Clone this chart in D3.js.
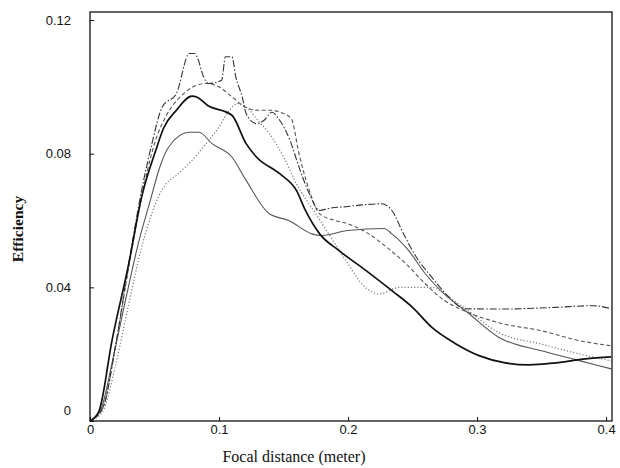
<!DOCTYPE html>
<html>
<head>
<meta charset="utf-8">
<script src="https://cdn.jsdelivr.net/npm/d3@7"></script>
<style>
  body { margin: 0; background: #fff; }
  svg { display: block; }
</style>
</head>
<body>
<svg id="chart" width="620" height="468"></svg>
<script>
// focal distance (m) / efficiency pairs
const xA = [0, 0.007, 0.017, 0.03, 0.04, 0.051, 0.057, 0.067, 0.079, 0.083, 0.091, 0.11, 0.121, 0.129, 0.147, 0.16, 0.167, 0.178, 0.193, 0.214, 0.234, 0.25, 0.265, 0.284, 0.302, 0.322, 0.34, 0.361, 0.384, 0.404];
const yA = [0, 0.003, 0.024, 0.047, 0.067, 0.081, 0.0876, 0.093, 0.0972, 0.0969, 0.0945, 0.0915, 0.083, 0.079, 0.074, 0.069, 0.063, 0.056, 0.051, 0.045, 0.039, 0.034, 0.028, 0.023, 0.0195, 0.0174, 0.0168, 0.0174, 0.0186, 0.0192];

const xB = [0, 0.008, 0.018, 0.028, 0.038, 0.046, 0.055, 0.061, 0.0767, 0.0845, 0.0946, 0.11, 0.121, 0.139, 0.154, 0.172, 0.178, 0.2, 0.228, 0.234, 0.247, 0.26, 0.276, 0.291, 0.317, 0.35, 0.38, 0.404];
const yB = [0, 0.003, 0.019, 0.037, 0.054, 0.065, 0.077, 0.082, 0.0864, 0.0864, 0.083, 0.079, 0.072, 0.062, 0.060, 0.056, 0.0555, 0.057, 0.0576, 0.056, 0.051, 0.044, 0.0375, 0.033, 0.025, 0.021, 0.018, 0.0156];

const xC = [0, 0.01, 0.02, 0.03, 0.04, 0.048, 0.056, 0.067, 0.077, 0.081, 0.083, 0.088, 0.092, 0.102, 0.105, 0.11, 0.113, 0.118, 0.121, 0.129, 0.135, 0.141, 0.147, 0.155, 0.162, 0.17, 0.178, 0.185, 0.2, 0.215, 0.226, 0.234, 0.243, 0.253, 0.265, 0.276, 0.291, 0.32, 0.36, 0.39, 0.404];
const yC = [0, 0.004, 0.023, 0.047, 0.069, 0.083, 0.094, 0.098, 0.110, 0.110, 0.109, 0.103, 0.101, 0.102, 0.109, 0.109, 0.103, 0.097, 0.092, 0.089, 0.090, 0.0924, 0.090, 0.084, 0.076, 0.068, 0.063, 0.0636, 0.0642, 0.0648, 0.065, 0.063, 0.056, 0.049, 0.043, 0.038, 0.0336, 0.0335, 0.034, 0.0345, 0.0336];

const xD = [0, 0.01, 0.02, 0.03, 0.04, 0.053, 0.059, 0.067, 0.079, 0.09, 0.1, 0.108, 0.115, 0.121, 0.13, 0.139, 0.15, 0.16, 0.175, 0.19, 0.2, 0.212, 0.224, 0.24, 0.257, 0.265, 0.278, 0.291, 0.317, 0.35, 0.38, 0.404];
const yD = [0, 0.003, 0.017, 0.035, 0.052, 0.067, 0.071, 0.0735, 0.078, 0.083, 0.088, 0.093, 0.095, 0.094, 0.090, 0.086, 0.079, 0.071, 0.062, 0.053, 0.047, 0.0405, 0.038, 0.040, 0.040, 0.040, 0.037, 0.0336, 0.0264, 0.023, 0.020, 0.018];

const xE = [0, 0.01, 0.02, 0.03, 0.04, 0.05, 0.06, 0.07, 0.08, 0.09, 0.1, 0.11, 0.12, 0.13, 0.14, 0.15, 0.156, 0.162, 0.17, 0.178, 0.19, 0.2, 0.216, 0.23, 0.245, 0.26, 0.275, 0.29, 0.317, 0.35, 0.38, 0.404];
const yE = [0, 0.004, 0.023, 0.046, 0.067, 0.083, 0.092, 0.097, 0.100, 0.101, 0.100, 0.097, 0.094, 0.093, 0.093, 0.092, 0.0905, 0.080, 0.069, 0.062, 0.060, 0.059, 0.056, 0.052, 0.047, 0.041, 0.036, 0.033, 0.0294, 0.027, 0.024, 0.0225];

const xTicks = [0, 0.1, 0.2, 0.3, 0.4];
const yTicks = [0, 0.04, 0.08, 0.12];

const series = [
  { xs: xB, ys: yB, color: "#555", width: 1.1, dash: null },
  { xs: xD, ys: yD, color: "#777", width: 1.2, dash: "1.2,2" },
  { xs: xE, ys: yE, color: "#555", width: 1.1, dash: "4,2.5" },
  { xs: xC, ys: yC, color: "#333", width: 1.1, dash: "7,2,1.5,2" },
  { xs: xA, ys: yA, color: "#111", width: 1.7, dash: null },
];

const svg = d3.select("#chart");
const plotLeft = 90, plotRight = 612, plotTop = 12, plotBottom = 421;

const x = d3.scaleLinear().domain([0, 0.4046]).range([plotLeft, plotRight]);
const y = d3.scaleLinear().domain([0, 0.1224]).range([plotBottom, plotTop]);

const line = d3.line()
  .x((d) => x(d[0]))
  .y((d) => y(d[1]))
  .curve(d3.curveMonotoneX);

series.forEach((s) => {
  const pts = s.xs.map((v, i) => [v, s.ys[i]]);
  svg.append("path")
    .attr("d", line(pts))
    .attr("fill", "none")
    .attr("stroke", s.color)
    .attr("stroke-width", s.width)
    .attr("stroke-dasharray", s.dash);
});

// frame
svg.append("rect")
  .attr("x", plotLeft).attr("y", plotTop)
  .attr("width", plotRight - plotLeft).attr("height", plotBottom - plotTop)
  .attr("fill", "none")
  .attr("stroke", "#111")
  .attr("stroke-width", 1.3);

// bottom axis: inward ticks
const xAxis = d3.axisBottom(x)
  .tickValues(xTicks)
  .tickSize(-4)
  .tickPadding(4)
  .tickFormat((d) => (d === 0 ? "0" : d3.format(".1f")(d)));

const gx = svg.append("g")
  .attr("transform", `translate(0,${plotBottom})`)
  .call(xAxis);
gx.select(".domain").remove();
gx.selectAll("text")
  .attr("font-family", "Liberation Sans, Arial, sans-serif")
  .attr("font-size", 13)
  .attr("fill", "#111");
gx.selectAll("line").attr("stroke", "#111");

// left axis
const yAxis = d3.axisLeft(y)
  .tickValues(yTicks)
  .tickSize(-4)
  .tickPadding(19)
  .tickFormat((d) => (d === 0 ? "0" : d3.format(".2f")(d)));

const gy = svg.append("g")
  .attr("transform", `translate(${plotLeft},0)`)
  .call(yAxis);
gy.select(".domain").remove();
gy.selectAll("text")
  .attr("font-family", "Liberation Sans, Arial, sans-serif")
  .attr("font-size", 13)
  .attr("fill", "#111");
gy.selectAll("line").attr("stroke", "#111");
// the zero label sits a little above the corner
gy.selectAll(".tick").filter((d) => d === 0).select("text").attr("dy", "-0.5em");

// titles
svg.append("text")
  .attr("x", 294).attr("y", 462)
  .attr("text-anchor", "middle")
  .attr("font-family", "Liberation Serif, Times New Roman, serif")
  .attr("font-size", 16)
  .attr("fill", "#111")
  .text("Focal distance (meter)");

svg.append("text")
  .attr("transform", "translate(23,229) rotate(-90)")
  .attr("text-anchor", "middle")
  .attr("font-family", "Liberation Serif, Times New Roman, serif")
  .attr("font-size", 15.5)
  .attr("font-weight", "bold")
  .attr("fill", "#111")
  .text("Efficiency");
</script>
</body>
</html>
